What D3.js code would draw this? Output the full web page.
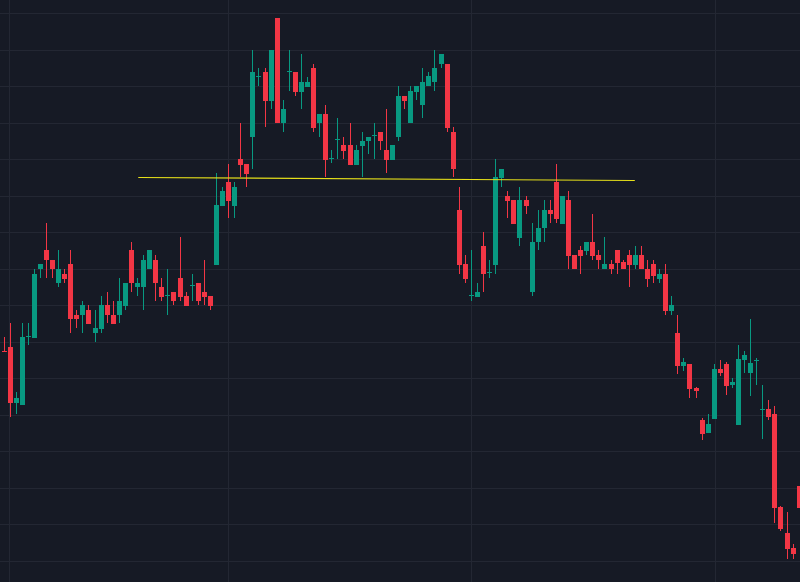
<!DOCTYPE html>
<html><head><meta charset="utf-8">
<script src="https://cdn.jsdelivr.net/npm/d3@7"></script>
<style>html,body{margin:0;padding:0;background:#161a25;overflow:hidden}</style>
</head><body><svg id="c" width="800" height="582"></svg>
<script>
// OHLC per candle: [open, high, low, close]
const ohlc = [
[249,263,248,248],[253,277,183,197],[197,208,186,202],[195,277,195,263],[263,277,255,264],
[262,331,262,326],[331,336,322,336],[350,377,322,340],[340,340,322,331],[317,350,313,331],
[326,331,317,321],[336,350,267,281],[285,290,272,281],[285,299,267,295],[290,295,276,276],
[267,290,258,272],[271,304,267,295],[295,308,277,285],[285,299,276,276],[285,322,277,299],
[294,317,290,317],[350,358,308,317],[313,322,304,317],[313,345,290,340],[331,350,331,350],
[340,345,299,317],[313,322,299,303],[304,331,285,305],[308,308,295,299],[322,363,299,303],
[304,308,294,294],[314,326,299,315],[317,317,295,299],[308,340,295,303],[304,304,290,294],
[335,427,335,395],[394,413,394,409],[418,436,382,399],[394,418,382,413],[441,477,423,435],
[436,436,413,426],[463,550,431,528],[523,532,514,524],[528,532,473,499],[499,550,491,550],
[582,582,477,477],[477,500,468,491],[528,550,509,529],[528,528,504,508],[508,546,491,518],
[513,523,513,518],[532,536,468,472],[477,486,463,486],[486,495,423,440],[441,450,437,442],
[460,482,441,461],[455,463,441,449],[455,477,435,435],[435,455,435,450],[454,468,423,459],
[459,463,446,463],[464,477,441,465],[468,468,450,459],[450,491,427,440],[440,455,440,455],
[463,514,459,504],[504,504,491,499],[477,514,477,509],[508,514,500,514],[495,532,482,518],
[514,528,514,524],[518,550,509,532],[536,546,532,546],[536,536,468,472],[468,473,423,431],
[390,413,326,335],[336,345,317,321],[304,350,299,305],[303,317,303,308],[354,368,308,326],
[327,340,322,328],[335,441,326,423],[422,431,413,431],[404,409,382,399],[400,400,376,376],
[362,413,354,400],[400,404,386,394],[308,377,304,358],[358,390,350,372],[372,400,358,390],
[390,400,377,386],[418,436,377,381],[376,404,376,404],[400,409,331,344],[345,345,331,331],
[350,354,326,344],[349,358,345,358],[358,386,340,344],[345,350,331,340],[331,363,331,336],
[336,340,326,331],[350,350,326,337],[338,340,331,331],[345,350,313,335],[335,354,331,345],
[345,354,331,331],[331,340,313,321],[336,340,317,324],[321,331,317,326],[326,336,285,289],
[289,304,285,295],[267,285,226,234],[234,242,229,238],[236,236,202,211],[212,213,202,209],
[180,182,160,166],[167,186,167,176],[181,236,181,231],[231,240,224,227],[236,238,205,214],
[215,222,212,218],[175,255,175,241],[240,249,227,245],[227,281,204,237],[239,242,215,240],
[190,215,161,191],[191,200,180,183],[186,194,77,92],[93,94,69,71],[67,88,41,51],
[52,56,41,46],[114,114,92,92]
];
const gridPrices = [587,550.5,514,477.5,441,404.5,368,331.5,295,258.5,222,185.5,149,112.5,76,39.5];
const gridIdx = [0.9, 37, 77, 117.2];
const lineIdx = [22.2, 104];
const linePrice = [422.5, 419.5];

const svg = d3.select('#c');
const x = d3.scaleLinear().domain([0, 131]).range([3.5, 798.7]);
const y = d3.scaleLinear().domain([18, 600]).range([582, 0]);
const up = '#089981', dn = '#f23645';

svg.append('rect').attr('width',800).attr('height',582).attr('fill','#161a25');
svg.selectAll('.hg').data(gridPrices).join('line')
  .attr('x1',0).attr('x2',800).attr('y1',d=>Math.round(y(d))+0.5).attr('y2',d=>Math.round(y(d))+0.5)
  .attr('stroke','#232733').attr('stroke-width',1);
svg.selectAll('.vg').data(gridIdx).join('line')
  .attr('y1',0).attr('y2',582).attr('x1',d=>Math.round(x(d))+0.5).attr('x2',d=>Math.round(x(d))+0.5)
  .attr('stroke','#232733').attr('stroke-width',1);

const g = svg.append('g');
const cw = 5;
ohlc.forEach((d,i)=>{
  const [o,h,l,c] = d;
  const col = c >= o ? up : dn;
  const cx = Math.round(x(i));
  g.append('line').attr('x1',cx+0.5).attr('x2',cx+0.5).attr('y1',y(h)).attr('y2',y(l))
    .attr('stroke',col).attr('stroke-width',1);
  const top = y(Math.max(o,c)), bot = y(Math.min(o,c));
  g.append('rect').attr('x',cx-2).attr('width',cw).attr('y',top).attr('height',Math.max(1,bot-top)).attr('fill',col);
});

svg.append('line')
  .attr('x1',x(lineIdx[0])).attr('y1',y(linePrice[0]))
  .attr('x2',x(lineIdx[1])).attr('y2',y(linePrice[1]))
  .attr('stroke','#e6e01a').attr('stroke-width',1.2);
</script></body></html>
